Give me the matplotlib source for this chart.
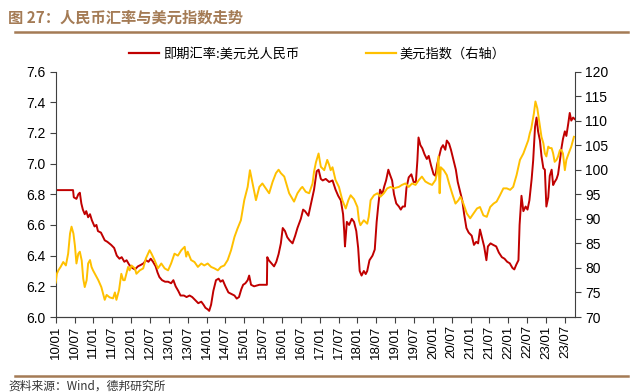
import matplotlib
matplotlib.use("Agg")
import matplotlib.pyplot as plt
from matplotlib.lines import Line2D
import numpy as np

# fonts: CJK first, fall back to DejaVu for anything missing
plt.rcParams['font.family'] = ['Noto Sans CJK SC', 'DejaVu Sans']
NUM_FONT = ['Liberation Sans', 'DejaVu Sans']

TITLE = "图 27：人民币汇率与美元指数走势"
SOURCE = "资料来源：Wind，德邦研究所"
CNY_LABEL = "即期汇率:美元兑人民币"
DXY_LABEL = "美元指数（右轴）"

# half-year ticks, 2010-01 .. 2023-07
tick_pos = [2010 + 0.5 * i for i in range(28)]
tick_labels = ["%02d/%s" % (y % 100, m) for y in range(2010, 2024) for m in ("01", "07")]

# USD/CNY spot (left axis), time in decimal years
cny_t = [2010.00, 2010.46, 2010.48, 2010.55, 2010.60, 2010.64, 2010.68, 2010.72, 2010.77, 2010.81,
         2010.86, 2010.91, 2010.96, 2011.03, 2011.08, 2011.12, 2011.20, 2011.30, 2011.37, 2011.47,
         2011.55, 2011.62, 2011.69, 2011.75, 2011.82, 2011.88, 2011.95, 2012.03, 2012.10, 2012.18,
         2012.26, 2012.33, 2012.39, 2012.46, 2012.52, 2012.58, 2012.65, 2012.70, 2012.75, 2012.82,
         2012.90, 2012.98, 2013.06, 2013.12, 2013.18, 2013.25, 2013.31, 2013.40, 2013.47, 2013.55,
         2013.62, 2013.70, 2013.78, 2013.86, 2013.92, 2013.97, 2014.03, 2014.07, 2014.12, 2014.18,
         2014.25, 2014.32, 2014.37, 2014.43, 2014.50, 2014.58, 2014.66, 2014.74, 2014.80, 2014.86,
         2014.92, 2014.97, 2015.03, 2015.09, 2015.13, 2015.18, 2015.26, 2015.40, 2015.50, 2015.60,
         2015.61, 2015.65, 2015.72, 2015.79, 2015.85, 2015.91, 2015.97, 2016.02, 2016.08, 2016.14,
         2016.20, 2016.28, 2016.35, 2016.41, 2016.50, 2016.56, 2016.61, 2016.70, 2016.78, 2016.85,
         2016.92, 2016.97, 2017.03, 2017.08, 2017.16, 2017.25, 2017.34, 2017.42, 2017.49, 2017.56,
         2017.62, 2017.65, 2017.67, 2017.72, 2017.78, 2017.85, 2017.91, 2017.97, 2018.02, 2018.06,
         2018.11, 2018.17, 2018.22, 2018.26, 2018.32, 2018.40, 2018.46, 2018.51, 2018.55, 2018.60,
         2018.66, 2018.71, 2018.76, 2018.82, 2018.86, 2018.92, 2018.97, 2019.03, 2019.10, 2019.15,
         2019.20, 2019.26, 2019.30, 2019.36, 2019.43, 2019.49, 2019.55, 2019.59, 2019.62, 2019.67,
         2019.72, 2019.78, 2019.84, 2019.89, 2019.95, 2020.02, 2020.07, 2020.11, 2020.17, 2020.22,
         2020.27, 2020.33, 2020.37, 2020.43, 2020.48, 2020.55, 2020.61, 2020.66, 2020.72, 2020.78,
         2020.83, 2020.89, 2020.95, 2021.03, 2021.09, 2021.15, 2021.20, 2021.25, 2021.30, 2021.36,
         2021.42, 2021.46, 2021.53, 2021.60, 2021.68, 2021.75, 2021.83, 2021.90, 2021.97, 2022.04,
         2022.11, 2022.16, 2022.21, 2022.27, 2022.30, 2022.35, 2022.40, 2022.46, 2022.51, 2022.56,
         2022.62, 2022.66, 2022.71, 2022.75, 2022.79, 2022.84, 2022.88, 2022.93, 2022.97, 2023.01,
         2023.06, 2023.10, 2023.15, 2023.19, 2023.23, 2023.28, 2023.32, 2023.37, 2023.41, 2023.45,
         2023.50, 2023.54, 2023.59, 2023.63, 2023.67, 2023.72, 2023.76]
cny_v = [6.827, 6.827, 6.78, 6.77, 6.80, 6.81, 6.74, 6.70, 6.67, 6.69,
         6.65, 6.67, 6.63, 6.59, 6.60, 6.56, 6.55, 6.50, 6.49, 6.47,
         6.45, 6.40, 6.38, 6.39, 6.36, 6.37, 6.34, 6.32, 6.31, 6.33,
         6.34, 6.35, 6.37, 6.36, 6.38, 6.36, 6.33, 6.29, 6.26, 6.24,
         6.23, 6.23, 6.22, 6.24, 6.20, 6.17, 6.14, 6.14, 6.13, 6.14,
         6.13, 6.11, 6.09, 6.10, 6.08, 6.06, 6.05, 6.04, 6.08, 6.17,
         6.24, 6.25, 6.23, 6.24, 6.20, 6.16, 6.15, 6.14, 6.12, 6.13,
         6.18, 6.21, 6.22, 6.24, 6.27, 6.21, 6.20, 6.21, 6.21, 6.21,
         6.39, 6.37, 6.35, 6.33, 6.36, 6.41, 6.48, 6.58, 6.56, 6.52,
         6.50, 6.48, 6.53, 6.58, 6.64, 6.70, 6.69, 6.66, 6.75, 6.83,
         6.95, 6.96, 6.90, 6.89, 6.90, 6.88, 6.89, 6.83, 6.79, 6.76,
         6.67, 6.56, 6.46, 6.62, 6.60, 6.64, 6.62, 6.56, 6.45, 6.30,
         6.27, 6.30, 6.28, 6.30, 6.37, 6.40, 6.44, 6.62, 6.72, 6.83,
         6.80, 6.85, 6.89, 6.96, 6.93, 6.89, 6.80, 6.74, 6.72, 6.70,
         6.72, 6.72, 6.84, 6.91, 6.93, 6.88, 6.88, 7.02, 7.17, 7.12,
         7.10, 7.06, 7.03, 7.05, 6.99, 6.93, 6.92, 6.99, 7.05, 7.10,
         7.12, 7.09, 7.15, 7.13, 7.09, 7.02, 6.96, 6.88, 6.82, 6.76,
         6.67, 6.58, 6.55, 6.53, 6.47, 6.49, 6.48, 6.57, 6.52, 6.46,
         6.37, 6.46, 6.48, 6.47, 6.46, 6.42, 6.39, 6.38, 6.36, 6.35,
         6.32, 6.31, 6.34, 6.37, 6.60, 6.79, 6.69, 6.72, 6.70, 6.76,
         6.90, 7.02, 7.24, 7.30, 7.21, 7.15, 7.05, 6.97, 6.96, 6.72,
         6.78, 6.92, 6.96, 6.86, 6.88, 6.90, 6.93, 7.02, 7.10, 7.16,
         7.21, 7.18, 7.26, 7.33, 7.28, 7.30, 7.29]

# US dollar index (right axis)
dxy_t = [2010.00, 2010.03, 2010.07, 2010.13, 2010.20, 2010.27, 2010.33, 2010.38, 2010.42, 2010.47,
         2010.51, 2010.55, 2010.60, 2010.64, 2010.69, 2010.73, 2010.77, 2010.82, 2010.86, 2010.91,
         2010.95, 2010.99, 2011.04, 2011.13, 2011.21, 2011.30, 2011.35, 2011.43, 2011.52, 2011.57,
         2011.61, 2011.68, 2011.74, 2011.79, 2011.83, 2011.92, 2011.96, 2012.01, 2012.10, 2012.14,
         2012.23, 2012.32, 2012.39, 2012.45, 2012.49, 2012.54, 2012.62, 2012.71, 2012.80, 2012.89,
         2012.98, 2013.06, 2013.15, 2013.24, 2013.33, 2013.42, 2013.46, 2013.50, 2013.59, 2013.68,
         2013.77, 2013.86, 2013.94, 2014.03, 2014.12, 2014.21, 2014.30, 2014.38, 2014.47, 2014.56,
         2014.65, 2014.74, 2014.82, 2014.91, 2015.00, 2015.09, 2015.15, 2015.22, 2015.31, 2015.40,
         2015.48, 2015.57, 2015.66, 2015.75, 2015.84, 2015.91, 2015.97, 2016.06, 2016.19, 2016.32,
         2016.41, 2016.50, 2016.54, 2016.63, 2016.72, 2016.81, 2016.85, 2016.90, 2016.97, 2017.03,
         2017.12, 2017.20, 2017.25, 2017.29, 2017.34, 2017.42, 2017.51, 2017.60, 2017.69, 2017.76,
         2017.82, 2017.91, 2018.00, 2018.04, 2018.08, 2018.17, 2018.26, 2018.30, 2018.35, 2018.44,
         2018.53, 2018.61, 2018.70, 2018.79, 2018.88, 2018.96, 2019.10, 2019.18, 2019.27, 2019.36,
         2019.45, 2019.54, 2019.63, 2019.71, 2019.80, 2019.89, 2019.98, 2020.07, 2020.11, 2020.15,
         2020.18, 2020.21, 2020.29, 2020.37, 2020.43, 2020.51, 2020.60, 2020.68, 2020.73, 2020.81,
         2020.90, 2020.99, 2021.08, 2021.17, 2021.25, 2021.34, 2021.43, 2021.52, 2021.61, 2021.69,
         2021.78, 2021.87, 2021.96, 2022.05, 2022.13, 2022.22, 2022.31, 2022.40, 2022.48, 2022.53,
         2022.57, 2022.61, 2022.68, 2022.72, 2022.77, 2022.84, 2022.88, 2022.93, 2022.97, 2023.01,
         2023.06, 2023.10, 2023.15, 2023.19, 2023.23, 2023.28, 2023.32, 2023.37, 2023.41, 2023.45,
         2023.50, 2023.54, 2023.60, 2023.67, 2023.74]
dxy_v = [77.0, 78.8, 79.5, 80.2, 81.2, 80.5, 82.9, 87.0, 88.4, 87.0,
         84.5, 80.9, 82.9, 83.3, 81.5, 77.8, 76.1, 77.5, 80.9, 81.6,
         80.2, 79.5, 78.8, 77.5, 76.1, 73.5, 74.5, 74.0, 73.8, 75.0,
         73.5, 75.5, 78.8, 77.5, 77.5, 80.2, 79.5, 80.5, 79.9, 78.8,
         79.5, 79.9, 81.9, 82.9, 83.6, 82.9, 81.6, 79.9, 80.9, 79.9,
         79.5, 80.9, 82.9, 82.5, 83.6, 84.3, 82.3, 83.3, 81.6, 81.2,
         80.2, 80.9, 80.5, 80.9, 80.2, 79.9, 79.5, 80.2, 80.5, 81.6,
         83.6, 86.3, 88.0, 89.7, 93.8, 96.5, 99.9, 97.2, 93.8, 96.5,
         97.2, 96.2, 95.2, 97.5, 99.3, 100.0, 99.3, 98.6, 95.2, 93.5,
         95.2, 96.2, 96.5, 95.5, 95.2, 97.2, 99.6, 101.5, 103.3, 100.6,
         99.9, 102.0, 101.0, 99.9, 100.5, 97.9, 96.5, 93.8, 92.1, 93.8,
         94.8, 94.0, 92.4, 89.7, 88.7, 89.7, 89.0, 90.4, 93.8, 94.8,
         95.2, 94.5, 95.2, 96.2, 96.5, 96.2, 96.5, 96.9, 97.2, 96.5,
         97.2, 96.9, 97.9, 98.6, 97.6, 97.2, 96.9, 97.9, 99.3, 102.7,
         95.2, 100.5, 99.9, 98.9, 97.2, 95.2, 93.1, 93.8, 94.5, 93.1,
         91.1, 90.1, 91.1, 92.1, 92.4, 90.7, 90.4, 92.4, 93.1, 93.5,
         94.8, 96.2, 96.2, 95.9, 96.5, 98.9, 102.0, 103.3, 105.0, 106.0,
         107.4, 108.4, 111.5, 113.9, 112.5, 108.8, 106.7, 105.4, 103.3, 102.7,
         104.7, 104.4, 104.4, 103.3, 101.6, 102.0, 102.7, 104.0, 104.0, 103.3,
         99.9, 102.0, 103.3, 104.7, 106.7]

RED = '#C00000'
GOLD = '#FFC000'
BROWN = '#A47B55'
AXIS = '#404040'

fig = plt.figure(figsize=(6.38, 3.92), dpi=100)
ax = fig.add_axes([0.0873, 0.1913, 0.814, 0.6263])
ax2 = ax.twinx()

ax.plot(cny_t, cny_v, color=RED, lw=1.4)
ax2.plot(dxy_t, dxy_v, color=GOLD, lw=1.4)

ax.set_xlim(2010.0, 2023.77)
ax.set_ylim(6.0, 7.6)
ax2.set_ylim(70, 120)
ax.set_yticks(np.arange(6.0, 7.61, 0.2))
ax.set_yticklabels(["%.1f" % v for v in np.arange(6.0, 7.61, 0.2)])
ax2.set_yticks(range(70, 121, 5))
ax.set_xticks(tick_pos)
ax.set_xticklabels(tick_labels, rotation=90)

for a in (ax, ax2):
    a.spines['top'].set_visible(False)
    for s in ('left', 'right', 'bottom'):
        a.spines[s].set_color(AXIS)
        a.spines[s].set_linewidth(0.8)
    a.tick_params(colors=AXIS, length=4, width=0.8, labelcolor='black', labelsize=10)
    for lab in a.get_yticklabels():
        lab.set_fontfamily(NUM_FONT)
ax.tick_params(axis='x', labelsize=9.5, pad=2)
for lab in ax.get_xticklabels():
    lab.set_fontfamily(NUM_FONT)
ax2.spines['left'].set_visible(False)
ax.spines['right'].set_visible(False)

# title and rules
fig.text(0.0125, 1 - 18 / 392, TITLE, fontsize=11, fontweight='bold', color=BROWN, va='center', ha='left')
fig.add_artist(Line2D([15 / 638, 628 / 638], [1 - 32 / 392] * 2, color=BROWN, lw=1.8))
fig.add_artist(Line2D([15 / 638, 628 / 638], [1 - 375.5 / 392] * 2, color=BROWN, lw=1.8))
fig.text(0.0125, 1 - 386 / 392, SOURCE, fontsize=8.5, color='#333333', va='center', ha='left')

# legend
handles = [Line2D([], [], color=RED, lw=1.6), Line2D([], [], color=GOLD, lw=1.6)]
fig.legend(handles, [CNY_LABEL, DXY_LABEL], loc='center left', bbox_to_anchor=(129 / 638, 1 - 54 / 392),
           ncol=2, frameon=False, fontsize=9.5, handlelength=2.3, handletextpad=0.3,
           columnspacing=5.0, borderpad=0, borderaxespad=0)

fig.savefig('out.png', dpi=100)
